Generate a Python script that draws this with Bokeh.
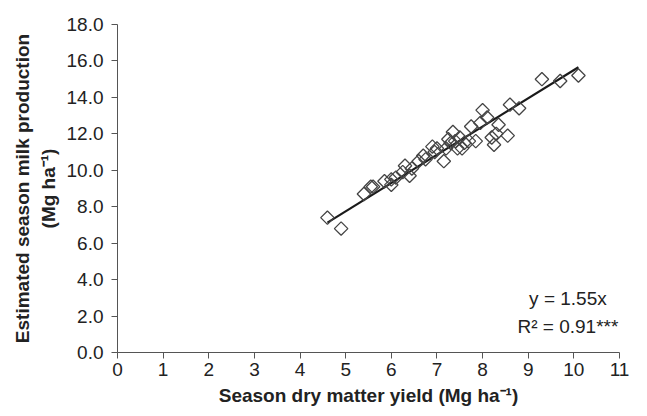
from bokeh.plotting import figure
from bokeh.models import Range1d, NumeralTickFormatter, SingleIntervalTicker, Label
from bokeh.embed import file_html
from bokeh.resources import INLINE
import numpy as np

# Season dry matter yield (Mg/ha)
dm_yield = [4.6, 4.9, 5.4, 5.55, 5.6, 5.85, 6.0, 6.0, 6.1, 6.25, 6.3, 6.4, 6.45,
            6.6, 6.7, 6.75, 6.9, 6.95, 7.0, 7.15, 7.2, 7.25, 7.3, 7.35, 7.4, 7.45,
            7.5, 7.55, 7.6, 7.7, 7.75, 7.85, 7.95, 8.0, 8.1, 8.2, 8.25, 8.3, 8.35,
            8.55, 8.6, 8.8, 9.3, 9.7, 10.1]
# Estimated season milk production (Mg/ha)
milk = [7.4, 6.8, 8.7, 9.1, 9.1, 9.4, 9.5, 9.2, 9.6, 9.9, 10.25, 9.7, 10.1,
        10.5, 10.8, 10.6, 11.3, 11.0, 11.2, 10.5, 11.2, 11.7, 11.5, 12.1, 11.6, 11.2,
        11.8, 11.2, 11.5, 11.6, 12.4, 11.6, 12.6, 13.3, 12.9, 11.8, 11.4, 12.0, 12.5,
        11.9, 13.6, 13.4, 15.0, 14.9, 15.2]
slope = 1.55
eq_text = "y = 1.55x"
r2_text = "R² = 0.91***"

FONT = "Liberation Sans"

p = figure(width=631, height=408, output_backend="svg", toolbar_location=None,
           x_range=Range1d(0, 11), y_range=Range1d(0, 18),
           min_border_left=117, min_border_right=12, min_border_top=24, min_border_bottom=54)
p.outline_line_color = None
p.xgrid.grid_line_color = None
p.ygrid.grid_line_color = None
p.background_fill_color = "white"

# trend line over data range
xs = np.array([min(dm_yield), max(dm_yield)])
p.line(xs, slope * xs, line_color="#1a1a1a", line_width=2.2)

p.scatter(dm_yield, milk, marker="square", angle=np.pi / 4, size=9.5,
          fill_color=None, line_color="#444444", line_width=1.3)

p.xaxis.ticker = SingleIntervalTicker(interval=1, num_minor_ticks=0)
p.yaxis.ticker = SingleIntervalTicker(interval=2, num_minor_ticks=0)
p.yaxis.formatter = NumeralTickFormatter(format="0.0")

for ax in (p.xaxis[0], p.yaxis[0]):
    ax.axis_line_color = "#555555"
    ax.major_tick_line_color = "#555555"
    ax.major_tick_out = 6
    ax.major_tick_in = 0
    ax.minor_tick_line_color = None
    ax.major_label_text_font = FONT
    ax.major_label_text_font_size = "19px"
    ax.major_label_text_color = "#222222"
    ax.axis_label_text_font = FONT
    ax.axis_label_text_font_size = "19px"
    ax.axis_label_text_font_style = "bold"
    ax.axis_label_text_color = "#222222"

p.xaxis.axis_label = "Season dry matter yield (Mg ha⁻¹)"
p.yaxis.axis_label = "Estimated season milk production\n(Mg ha⁻¹)"
p.xaxis.axis_label_standoff = 6
p.yaxis.axis_label_standoff = 5
p.yaxis.major_label_standoff = 8
p.xaxis.major_label_standoff = 4

p.add_layout(Label(x=9.87, y=2.95, text=eq_text, text_align="center", text_baseline="middle",
                   text_font=FONT, text_font_size="19px", text_color="#222222"))
p.add_layout(Label(x=9.87, y=1.42, text=r2_text, text_align="center", text_baseline="middle",
                   text_font=FONT, text_font_size="19px", text_color="#222222"))

open("out.html", "w").write(file_html(p, INLINE))
